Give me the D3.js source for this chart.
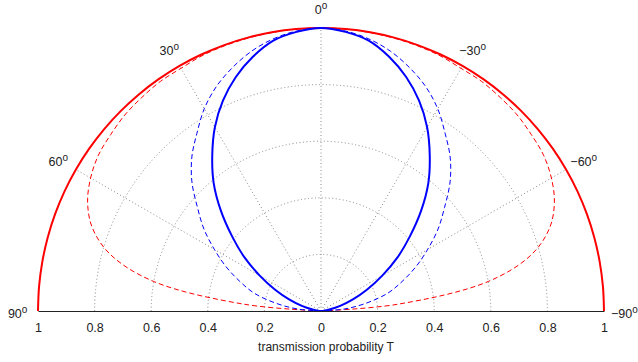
<!DOCTYPE html>
<html>
<head>
<meta charset="utf-8">
<script src="https://d3js.org/d3.v7.min.js"></script>
<style>
body { margin: 0; background: #fff; }
svg { display: block; }
text { font-family: "Liberation Sans", Arial, sans-serif; fill: #222; }
</style>
</head>
<body>
<script>
// incidence angle (deg), positive to the left
var angles = [90, 85, 80, 75, 70, 65, 60, 55, 50, 45, 40, 35, 30, 25, 20, 15, 10, 5, 0,
              -5, -10, -15, -20, -25, -30, -35, -40, -45, -50, -55, -60, -65, -70, -75, -80, -85, -90];

// transmission probability T
var redSolid  = [1, 1, 1, 1, 1, 1, 1, 1, 1, 1, 1, 1, 1, 1, 1, 1, 1, 1, 1,
                 1, 1, 1, 1, 1, 1, 1, 1, 1, 1, 1, 1, 1, 1, 1, 1, 1, 1];
var redDashed = [0, 0.27, 0.60, 0.77, 0.86, 0.91, 0.94, 0.96, 0.97, 0.98, 0.985, 0.99, 0.99, 0.995, 0.997, 0.998, 0.999, 1, 1,
                 1, 0.999, 0.998, 0.997, 0.995, 0.99, 0.99, 0.985, 0.98, 0.97, 0.96, 0.94, 0.91, 0.86, 0.77, 0.60, 0.27, 0];
var blueDashed = [0, 0.085, 0.165, 0.245, 0.305, 0.37, 0.435, 0.505, 0.57, 0.645, 0.71, 0.765, 0.825, 0.875, 0.915, 0.95, 0.976, 0.993, 1,
                  0.993, 0.976, 0.95, 0.915, 0.875, 0.825, 0.765, 0.71, 0.645, 0.57, 0.505, 0.435, 0.37, 0.305, 0.245, 0.165, 0.085, 0];
var blueSolid = [0, 0.01, 0.03, 0.07, 0.12, 0.18, 0.25, 0.33, 0.41, 0.50, 0.59, 0.67, 0.75, 0.82, 0.88, 0.93, 0.97, 0.99, 1,
                 0.99, 0.97, 0.93, 0.88, 0.82, 0.75, 0.67, 0.59, 0.50, 0.41, 0.33, 0.25, 0.18, 0.12, 0.07, 0.03, 0.01, 0];

var gridRings = [0.2, 0.4, 0.6, 0.8];
var spokes = [60, 30, 0, -30, -60];
var angleLabels = [90, 60, 30, 0, -30, -60, -90];
var tickValues = [-1, -0.8, -0.6, -0.4, -0.2, 0, 0.2, 0.4, 0.6, 0.8, 1];

var width = 638, height = 362;
var cx = 321, cy = 311, R = 283;

var svg = d3.select("body").append("svg")
    .attr("width", width)
    .attr("height", height);

svg.append("rect").attr("width", width).attr("height", height).attr("fill", "#fff");

var rScale = d3.scaleLinear().domain([0, 1]).range([0, R]);
// lineRadial angle is clockwise from 12 o'clock, our positive angles go left
var aScale = d3.scaleLinear().domain([-90, 90]).range([Math.PI / 2, -Math.PI / 2]);
var xScale = d3.scaleLinear().domain([-1, 1]).range([cx - R, cx + R]);

var g = svg.append("g").attr("transform", "translate(" + cx + "," + cy + ")");

// dotted grid: half rings and spokes
g.selectAll(".ring")
    .data(gridRings)
    .enter().append("path")
    .attr("class", "ring")
    .attr("d", function(d) {
        var p = d3.path();
        p.moveTo(-rScale(d), 0);
        p.arc(0, 0, rScale(d), Math.PI, 2 * Math.PI);
        return p.toString();
    })
    .attr("fill", "none")
    .attr("stroke", "#888")
    .attr("stroke-width", 1)
    .attr("stroke-dasharray", "1,2.5");

g.selectAll(".spoke")
    .data(spokes)
    .enter().append("line")
    .attr("class", "spoke")
    .attr("x1", 0).attr("y1", 0)
    .attr("x2", function(d) { return rScale(1) * Math.sin(aScale(d)); })
    .attr("y2", function(d) { return -rScale(1) * Math.cos(aScale(d)); })
    .attr("stroke", "#888")
    .attr("stroke-width", 1)
    .attr("stroke-dasharray", "1,2.5");

// baseline axis
var axis = d3.axisBottom(xScale)
    .tickValues(tickValues)
    .tickSize(0)
    .tickPadding(12)
    .tickFormat(function(d) { return d3.format("")(Math.abs(d)); });

var axisG = svg.append("g")
    .attr("transform", "translate(0," + cy + ")")
    .call(axis);
axisG.select(".domain").attr("stroke", "#222").attr("stroke-width", 1);
axisG.selectAll("text")
    .style("font-family", "Liberation Sans, Arial, sans-serif")
    .style("font-size", "12.5px")
    .attr("fill", "#222");

svg.append("text")
    .attr("x", 326)
    .attr("y", 351)
    .attr("text-anchor", "middle")
    .style("font-size", "12px")
    .text("transmission probability T");

// angle labels
var labels = svg.selectAll(".alabel")
    .data(angleLabels)
    .enter().append("text")
    .attr("class", "alabel")
    .attr("x", function(d) { return cx + rScale(1.072) * Math.sin(aScale(d)); })
    .attr("y", function(d) { return cy - rScale(1.072) * Math.cos(aScale(d)) + 6.5; })
    .attr("text-anchor", "middle")
    .style("font-size", "12.5px");
labels.append("tspan")
    .text(function(d) { return d < 0 ? "\u2212" + Math.abs(d) : d; });
labels.append("tspan")
    .attr("dy", -5)
    .style("font-size", "10px")
    .text("o");

// curves
var line = d3.lineRadial()
    .angle(function(d) { return aScale(d[0]); })
    .radius(function(d) { return rScale(d[1]); })
    .curve(d3.curveCatmullRom);

function series(vals) {
    return angles.map(function(a, i) { return [a, vals[i]]; });
}

g.append("path")
    .attr("d", line(series(redSolid)))
    .attr("fill", "none")
    .attr("stroke", "#ff0000")
    .attr("stroke-width", 2);

g.append("path")
    .attr("d", line(series(redDashed)))
    .attr("fill", "none")
    .attr("stroke", "#ff0000")
    .attr("stroke-width", 1)
    .attr("stroke-dasharray", "5,3");

g.append("path")
    .attr("d", line(series(blueDashed)))
    .attr("fill", "none")
    .attr("stroke", "#0000ff")
    .attr("stroke-width", 1)
    .attr("stroke-dasharray", "5,3");

g.append("path")
    .attr("d", line(series(blueSolid)))
    .attr("fill", "none")
    .attr("stroke", "#0000ff")
    .attr("stroke-width", 2);
</script>
</body>
</html>
